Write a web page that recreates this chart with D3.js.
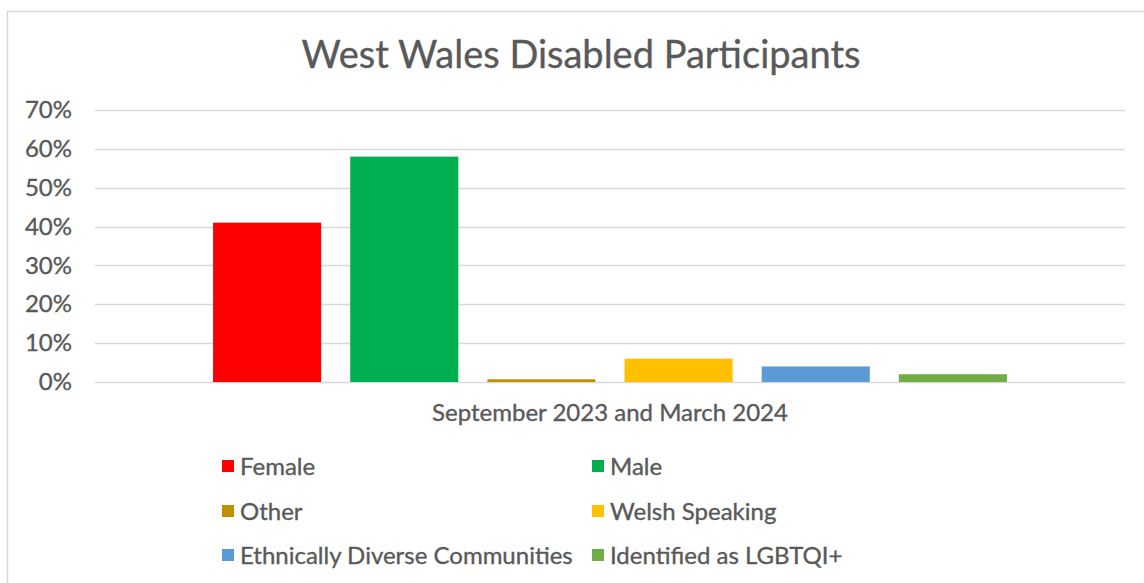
<!DOCTYPE html>
<html>
<head>
<meta charset="utf-8">
<script src="https://cdn.jsdelivr.net/npm/d3@7"></script>
<style>
html,body{margin:0;padding:0;background:#fff;}
svg{display:block;font-family:Lato,"Open Sans",sans-serif;}
svg text{stroke:#595959;stroke-width:0.35px;paint-order:stroke;}
</style>
</head>
<body>
<svg id="chart" width="1144" height="583"></svg>
<script>
const title = "West Wales Disabled Participants";
const category = "September 2023 and March 2024";
const seriesNames = ["Female","Male","Other","Welsh Speaking","Ethnically Diverse Communities","Identified as LGBTQI+"];
const seriesValues = [0.41, 0.58, 0.007, 0.06, 0.04, 0.02];
const seriesColors = ["#FF0000","#00B050","#BF9000","#FFC000","#5B9BD5","#70AD47"];
const yTicks = [0,0.1,0.2,0.3,0.4,0.5,0.6,0.7];

const svg = d3.select("#chart");
const W = 1144, H = 583;
const textColor = "#595959";

// chart border (cropped on right and bottom)
svg.append("path").attr("d", `M7.5,${H} V11.5 H${W}`)
  .attr("fill","none").attr("stroke","#D9D9D9").attr("stroke-width",1.5);

const plot = {left:95, right:1125, top:110, bottom:382};
const y = d3.scaleLinear().domain([0,0.7]).range([plot.bottom, plot.top]);
const x0 = d3.scaleBand().domain([category]).range([plot.left, plot.right]).paddingInner(0).paddingOuter(0.1258);
const x1 = d3.scaleBand().domain(seriesNames).range([0, x0.bandwidth()]).paddingInner(0.212).paddingOuter(0.106);

// gridlines
svg.append("g").selectAll("line").data(yTicks).join("line")
  .attr("x1", plot.left).attr("x2", plot.right)
  .attr("y1", d => Math.round(y(d))+0.5).attr("y2", d => Math.round(y(d))+0.5)
  .attr("stroke","#D9D9D9").attr("stroke-width",1.3);

// y axis labels
const yAxis = d3.axisLeft(y).tickValues(yTicks).tickFormat(d3.format(".0%")).tickSize(0).tickPadding(0);
const gy = svg.append("g").attr("transform", `translate(72,0)`).call(yAxis);
gy.select(".domain").remove();
gy.selectAll("text").attr("fill", textColor).style("font-size","24px").style("font-family","Lato");

// bars
const g = svg.append("g").attr("transform", `translate(${x0(category)},0)`);
g.selectAll("rect").data(seriesNames).join("rect")
  .attr("x", (d) => x1(d))
  .attr("width", x1.bandwidth())
  .attr("y", (d,i) => y(seriesValues[i]))
  .attr("height", (d,i) => y(0) - y(seriesValues[i]))
  .attr("fill", (d,i) => seriesColors[i]);

// title
svg.append("text").attr("x", 581).attr("y", 68).attr("text-anchor","middle")
  .attr("fill", textColor).style("font-size","38px").text(title);

// category label
svg.append("text").attr("x", x0(category) + x0.bandwidth()/2).attr("y", 421).attr("text-anchor","middle")
  .attr("fill", textColor).style("font-size","24px").text(category);

// legend
const legX = [222, 592], legY = [466, 511, 555];
const leg = svg.append("g").selectAll("g").data(seriesNames).join("g")
  .attr("transform", (d,i) => `translate(${legX[i%2]},${legY[Math.floor(i/2)]})`);
leg.append("rect").attr("x",0).attr("y",-6).attr("width",12).attr("height",12)
  .attr("fill", (d,i) => seriesColors[i]);
leg.append("text").attr("x",18).attr("y",8.5).attr("fill", textColor)
  .style("font-size","24px").text(d => d);
</script>
</body>
</html>
